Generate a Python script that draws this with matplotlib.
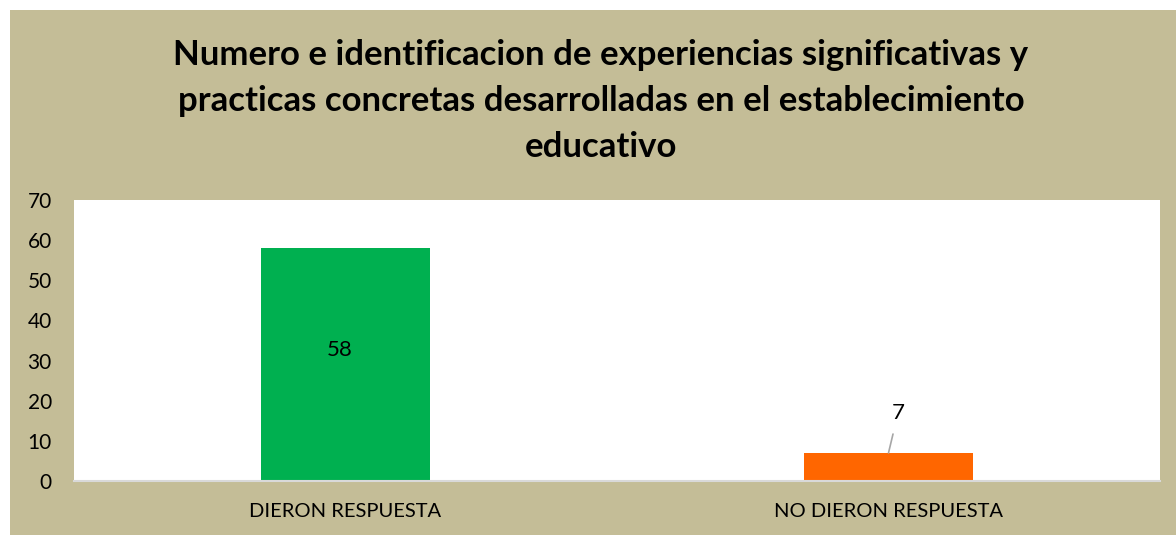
import matplotlib
matplotlib.use("Agg")
import matplotlib.pyplot as plt
from matplotlib.patches import Rectangle

categories = ["DIERON RESPUESTA", "NO DIERON RESPUESTA"]
values = [58, 7]
colors = ["#00B050", "#FF6600"]
title = "Numero e identificacion de experiencias significativas y\npracticas concretas desarrolladas en el establecimiento\neducativo"

plt.rcParams['font.family'] = ['Lato', 'DejaVu Sans']

W, H = 1176, 535
fig = plt.figure(figsize=(W / 100, H / 100), dpi=100)
fig.patch.set_facecolor("white")
fig.patches.append(Rectangle((10 / W, 0), 1 - 10 / W, 1 - 10 / H, transform=fig.transFigure,
                             facecolor="#C4BD97", edgecolor="none", zorder=-10))

ax = fig.add_axes([74 / W, (H - 481) / H, (1160 - 74) / W, (481 - 200) / H])
ax.set_zorder(1)
ax.set_facecolor("white")
x = list(range(len(categories)))
bars = ax.bar(x, values, width=0.313, color=colors, zorder=2)
ax.set_xlim(-0.5, 1.5)
ax.set_ylim(0, 70)
ax.set_yticks(range(0, 71, 10))
ax.set_xticks(x)
ax.set_xticklabels(categories, fontsize=14.5)
ax.tick_params(axis='y', labelsize=15, length=0, pad=16)
ax.tick_params(axis='x', length=0, pad=16)
for s in ["top", "right", "left"]:
    ax.spines[s].set_visible(False)
ax.spines["bottom"].set_color("#D9D9D9")
ax.spines["bottom"].set_linewidth(1.5)

ax.text(x[0] - 0.011, 32.6, str(values[0]), ha="center", va="center", fontsize=16)
ax.annotate(str(values[1]), xy=(x[1], values[1]), xytext=(x[1] + 0.0175, 16.9),
            ha="center", va="center", fontsize=16,
            arrowprops=dict(arrowstyle="-", color="#A6A6A6", lw=1.2,
                            shrinkA=6, shrinkB=0))

fig.text(601 / W, 1 - 101 / H, title, ha="center", va="center", fontsize=25,
         fontweight="bold", linespacing=1.55)

fig.savefig("out.png", dpi=100, facecolor=fig.get_facecolor())
